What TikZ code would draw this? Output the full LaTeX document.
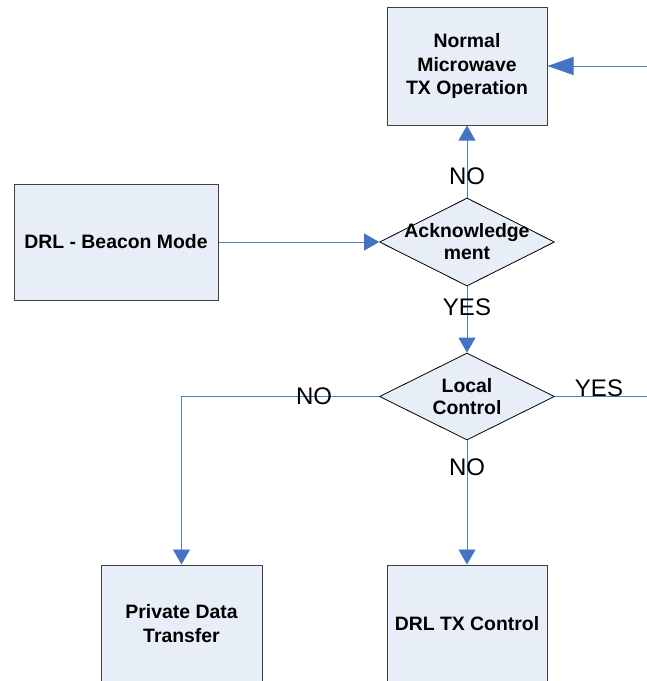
\documentclass[tikz,border=0pt]{standalone}
\usepackage{fontspec}
\setmainfont{Liberation Sans}
\usetikzlibrary{shapes.geometric,arrows.meta}
\definecolor{boxfill}{RGB}{232,238,248}
\definecolor{lineblue}{RGB}{79,129,189}
\definecolor{tipblue}{RGB}{68,114,196}
\definecolor{edgegray}{RGB}{64,64,64}
\begin{document}
\begin{tikzpicture}[x=1pt,y=-1pt,
  block/.style={draw=edgegray,line width=1pt,fill=boxfill,inner sep=0pt,
    align=center,font=\fontsize{19.4}{23.5}\selectfont\bfseries},
  decision/.style={diamond,draw=black,line width=0.8pt,fill=boxfill,inner sep=0pt,
    minimum width=175pt,minimum height=88pt},
  dtext/.style={align=center,inner sep=0pt,font=\fontsize{19.4}{22}\selectfont\bfseries},
  answer/.style={inner sep=0pt,font=\fontsize{24}{24}\selectfont},
  line/.style={draw=lineblue,line width=0.9pt},
  link/.style={line,-{Triangle[length=15pt,width=17pt,color=tipblue]}},
  bigtip/.style={line,-{Triangle[length=26pt,width=18pt,color=tipblue]}}]
\useasboundingbox (0,0) rectangle (647,681);

% boxes
\node[block,minimum width=160pt,minimum height=118pt] (norm) at (467,66) {Normal\\Microwave\\TX Operation};
\node[block,minimum width=204pt,minimum height=116pt] (beacon) at (116,242) {DRL - Beacon Mode};
\node[block,minimum width=161pt,minimum height=117pt] (priv) at (181.5,623.5) {Private Data\\Transfer};
\node[block,minimum width=160pt,minimum height=117pt] (drltx) at (467,623.5) {DRL TX Control};

% decisions
\node[decision] (ack) at (467,242) {};
\node[dtext] (ackt) at (ack) {Acknowledge\\ment};
\node[decision,minimum height=87pt] (local) at (467,396.5) {};
\node[dtext] (localt) at (local) {Local\\Control};

% loose ends on the right
\coordinate (inR) at (647,66);
\coordinate (outR) at (647,396.5);

% connectors
\draw[bigtip] (inR) -- (norm.east); %from the right
\draw[link] (ack.north) -- (norm.south); %no
\draw[link] (beacon.east) -- (ack.west);
\draw[link] (ack.south) -- (local.north); %yes
\draw[link] (local.west) -| (priv.north); %no
\draw[line] (local.east) -- (outR); %yes
\draw[link] (local.south) -- (drltx.north); %no

% answers
\node[answer] (noack) at (467,176) {NO};
\node[answer] (yesack) at (467,307) {YES};
\node[answer] (noleft) at (314,396) {NO};
\node[answer] (yesright) at (599,388) {YES};
\node[answer] (nodown) at (467,467) {NO};
\end{tikzpicture}
\end{document}
